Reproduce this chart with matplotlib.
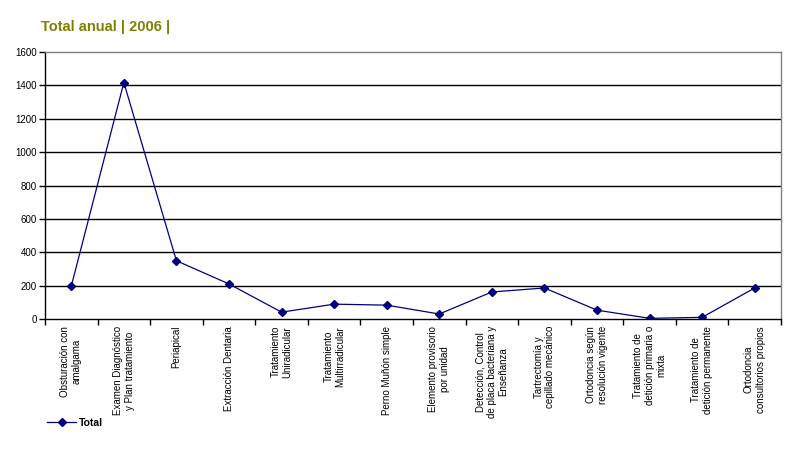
import matplotlib
matplotlib.use("Agg")
import matplotlib.pyplot as plt
from matplotlib.lines import Line2D

plt.rcParams['font.family'] = ['Liberation Sans', 'DejaVu Sans']

categories = [
    "Obsturación con\namalgama",
    "Examen Diagnóstico\ny Plan tratamiento",
    "Periapical",
    "Extracción Dentaria",
    "Tratamiento\nUniradicular",
    "Tratamiento\nMultirradicular",
    "Perno Muñón simple",
    "Elemento provisorio\npor unidad",
    "Detección, Control\nde placa bacteriana y\nEnseñanza",
    "Tartrectomía y\ncepillado mecánico",
    "Ortodoncia según\nresolución vigente",
    "Tratamiento de\ndetición primaria o\nmixta",
    "Tratamiento de\ndetición permanente",
    "Ortodoncia\nconsultorios propios",
]
total = [197, 1417, 349, 210, 41, 89, 83, 30, 162, 186, 53, 4, 10, 186]
yticks = [0, 200, 400, 600, 800, 1000, 1200, 1400, 1600]

fig = plt.figure(figsize=(7.96, 4.49), dpi=100)
ax = fig.add_axes([45/796, 1-319/449, (781-45)/796, (319-52)/449])

x = list(range(1, len(categories)+1))
navy = '#000080'
ax.plot(x, total, color=navy, lw=0.9, marker='D', markersize=4.5, markerfacecolor=navy, markeredgecolor=navy)

ax.set_xlim(0.5, len(categories)+0.5)
ax.set_ylim(0, 1600)
ax.set_yticks(yticks)
ax.set_yticklabels([str(v) for v in yticks], fontsize=7)
for v in yticks[1:-1]:
    ax.axhline(v, color='black', lw=1, zorder=0)

ax.set_xticks(x)
ax.set_xticklabels(categories, rotation=90, fontsize=7, va='top', ha='center', multialignment='center')
ax.tick_params(axis='x', which='major', length=0, pad=5)
ax.set_xticks([i+0.5 for i in range(0, len(categories)+1)], minor=True)
ax.tick_params(axis='x', which='minor', length=4, width=1, color='black', direction='out')
ax.tick_params(axis='y', length=4, width=1, color='black', direction='out', pad=2)

ax.spines['left'].set_color('black')
ax.spines['bottom'].set_color('black')
ax.spines['top'].set_color('#808080')
ax.spines['right'].set_color('#808080')
for s in ax.spines.values():
    s.set_linewidth(1)

fig.text(41/796, 1-27/449, "Total anual | 2006 |", color='#808000', fontsize=10.5, fontweight='bold', va='center', ha='left')

handle = Line2D([0], [0], color=navy, lw=0.9, marker='D', markersize=4.5, markerfacecolor=navy)
fig.legend([handle], ['Total'], loc='center left', bbox_to_anchor=(47/796, 1-423/449), frameon=False,
           prop={'size': 7.5, 'weight': 'bold'}, handlelength=2.8, handletextpad=0.3, borderaxespad=0,
           borderpad=0)

fig.savefig('out.png', dpi=100)
